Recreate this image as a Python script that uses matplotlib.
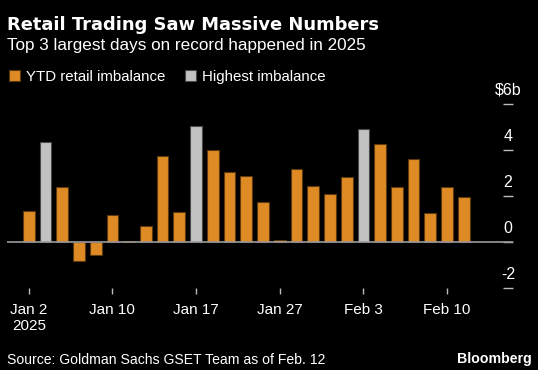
import numpy as np
import matplotlib.pyplot as plt
from matplotlib.transforms import blended_transform_factory, offset_copy

plt.rcParams['font.family'] = ['Liberation Sans', 'DejaVu Sans']

days = ["Jan 2", "Jan 3", "Jan 6", "Jan 7", "Jan 8", "Jan 10", "Jan 13", "Jan 14",
        "Jan 15", "Jan 16", "Jan 17", "Jan 21", "Jan 22", "Jan 23", "Jan 24", "Jan 27",
        "Jan 28", "Jan 29", "Jan 30", "Jan 31", "Feb 3", "Feb 4", "Feb 5", "Feb 6",
        "Feb 7", "Feb 10", "Feb 11"]
imbalance = [1.35, 4.33, 2.38, -0.84, -0.55, 1.19, 0.04, 0.70, 3.74, 1.32, 5.04, 3.99,
             3.04, 2.86, 1.74, 0.07, 3.17, 2.42, 2.09, 2.81, 4.91, 4.25, 2.38, 3.59,
             1.26, 2.38, 1.96]
highest = ["Jan 3", "Jan 17", "Feb 3"]
tick_days = ["Jan 2", "Jan 10", "Jan 17", "Jan 27", "Feb 3", "Feb 10"]
tick_labels = ["Jan 2\n2025", "Jan 10", "Jan 17", "Jan 27", "Feb 3", "Feb 10"]
y_ticks = [6, 4, 2, 0, -2]
y_labels = ["$6b", "4", "2", "0", "-2"]

orange = "#DF8B25"
grey = "#C2C2C2"

W, H = 538, 370
fig = plt.figure(figsize=(W / 100, H / 100), dpi=100, facecolor="black")
ax = fig.add_axes([7 / W, 1 - 288 / H, 506 / W, 184 / H], facecolor="black")

x = np.arange(len(days))
is_high = np.array([d in highest for d in days])
vals = np.array(imbalance)
b1 = ax.bar(x[~is_high], vals[~is_high], width=0.7, color=orange,
            edgecolor="#5c3a0e", linewidth=0.8, label="YTD retail imbalance", zorder=2)
b2 = ax.bar(x[is_high], vals[is_high], width=0.7, color=grey,
            edgecolor="#4a4a4a", linewidth=0.8, label="Highest imbalance", zorder=2)
ax.axhline(0, color="#9a9a9a", lw=1.2, zorder=3)

ax.set_xlim(-1.3, 28.94)
ax.set_ylim(-2, 6)
for s in ax.spines.values():
    s.set_visible(False)

ax.yaxis.tick_right()
ax.set_yticks(y_ticks)
ax.tick_params(axis="y", direction="in", length=7.5, width=1, color="#bbbbbb",
               labelright=False)
tr = offset_copy(blended_transform_factory(ax.transAxes, ax.transData),
                 fig=fig, x=-5, y=6, units="dots")
for v, lab in zip(y_ticks, y_labels):
    ax.text(1.0, v, lab, transform=tr, ha="center", va="bottom",
            color="white", fontsize=11.5)

ax.set_xticks([days.index(d) for d in tick_days])
ax.set_xticklabels(tick_labels, color="white", fontsize=11, linespacing=1.2)
ax.tick_params(axis="x", direction="out", length=4.5, width=1, color="#bbbbbb", pad=6)

fig.text(7 / W, 1 - 30 / H, "Retail Trading Saw Massive Numbers", color="white",
         fontsize=12.9, fontweight="bold", family="DejaVu Sans", va="baseline")
fig.text(7 / W, 1 - 50 / H, "Top 3 largest days on record happened in 2025",
         color="white", fontsize=12.3, va="baseline")
fig.legend(handles=[b1, b2], loc="center left", bbox_to_anchor=(9 / W, 1 - 77 / H),
           ncol=2, frameon=False, fontsize=10.8, labelcolor="white",
           handlelength=0.75, handleheight=0.75, handletextpad=0.4,
           columnspacing=1.3, borderaxespad=0, borderpad=0)
fig.text(7 / W, 1 - 364 / H, "Source: Goldman Sachs GSET Team as of Feb. 12",
         color="white", fontsize=10.1, va="baseline")
fig.text(532 / W, 1 - 363 / H, "Bloomberg", color="white", fontsize=10.2,
         fontweight="bold", ha="right", va="baseline")

fig.savefig("out.png", dpi=100, facecolor="black")
